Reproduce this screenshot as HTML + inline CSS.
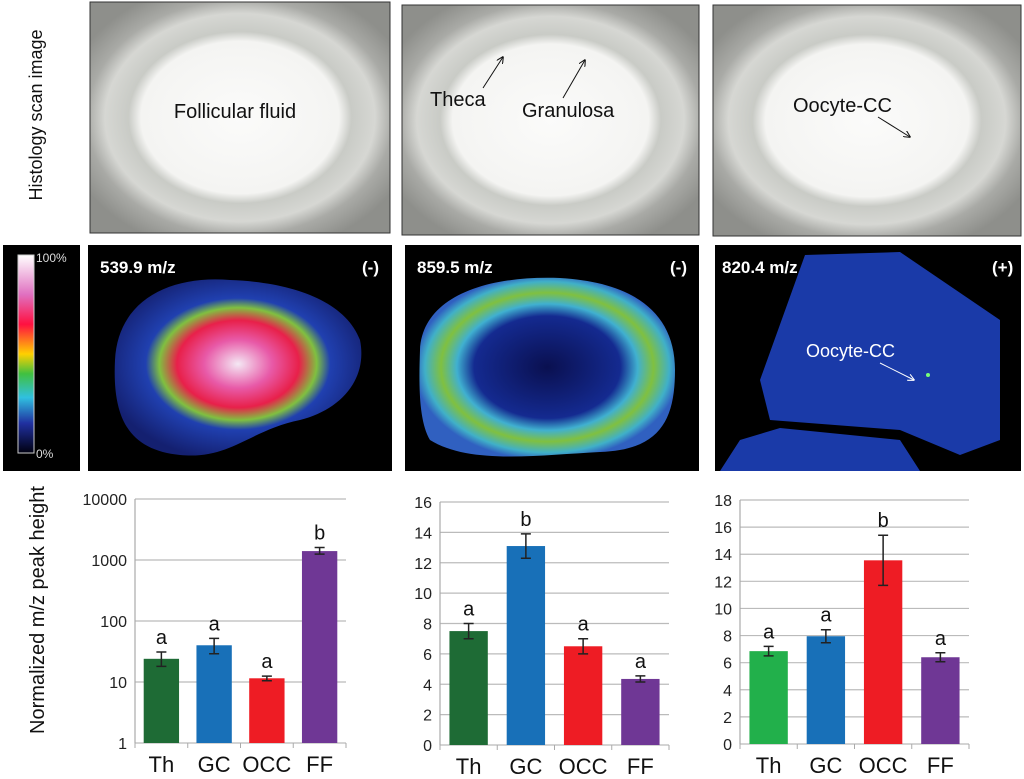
<!DOCTYPE html>
<html><head><meta charset="utf-8"><style>
body{margin:0;width:1024px;height:779px;background:#fff;overflow:hidden;font-family:"Liberation Sans",sans-serif;position:relative}
</style></head><body>
<svg width="1024" height="779" viewBox="0 0 1024 779" style="position:absolute;left:0;top:0">
<defs>
<radialGradient id="hist" cx="50%" cy="50%" r="60%">
<stop offset="0" stop-color="#fbfbfa"/><stop offset="0.55" stop-color="#f4f4f2"/><stop offset="0.62" stop-color="#c9cbc6"/><stop offset="0.75" stop-color="#d6d7d3"/><stop offset="0.85" stop-color="#a9aaa6"/><stop offset="1" stop-color="#8e8f8b"/></radialGradient>
<linearGradient id="cbar" x1="0" y1="0" x2="0" y2="1">
<stop offset="0" stop-color="#ffffff"/><stop offset="0.2" stop-color="#e070c0"/><stop offset="0.35" stop-color="#ff1040"/><stop offset="0.5" stop-color="#ffd000"/><stop offset="0.6" stop-color="#40c040"/><stop offset="0.72" stop-color="#30c0e0"/><stop offset="0.85" stop-color="#2030a0"/><stop offset="1" stop-color="#000010"/></linearGradient>
<radialGradient id="m1" cx="50%" cy="48%" r="55%">
<stop offset="0" stop-color="#f4e8f4"/><stop offset="0.25" stop-color="#e85aa8"/><stop offset="0.45" stop-color="#e8204a"/><stop offset="0.58" stop-color="#80c040"/><stop offset="0.68" stop-color="#2040b0"/><stop offset="1" stop-color="#142070"/></radialGradient>
<radialGradient id="m2" cx="50%" cy="50%" r="52%">
<stop offset="0" stop-color="#0a1050"/><stop offset="0.55" stop-color="#142a90"/><stop offset="0.68" stop-color="#40b0d0"/><stop offset="0.8" stop-color="#80c040"/><stop offset="0.92" stop-color="#40b0c8"/><stop offset="1" stop-color="#3060c0"/></radialGradient>
<marker id="ah" viewBox="0 0 10 10" refX="9" refY="5" markerWidth="7" markerHeight="7" orient="auto"><path d="M0 0L10 5L0 10" fill="none" stroke="context-stroke" stroke-width="1.5"/></marker>
<marker id="ahb" viewBox="0 0 10 10" refX="9" refY="5" markerWidth="7" markerHeight="7" orient="auto"><path d="M0 0L10 5L0 10" fill="none" stroke="#111" stroke-width="1.5"/></marker>
<marker id="ahw" viewBox="0 0 10 10" refX="9" refY="5" markerWidth="7" markerHeight="7" orient="auto"><path d="M0 0L10 5L0 10" fill="none" stroke="#fff" stroke-width="1.5"/></marker>
</defs>
<g>
<rect x="90" y="2" width="300" height="231" fill="url(#hist)" stroke="#333"/>
<text x="235" y="118" font-size="20" text-anchor="middle" fill="#111">Follicular fluid</text></g>
<g>
<rect x="402" y="5" width="297" height="230" fill="url(#hist)" stroke="#333"/>
<text x="430" y="106" font-size="20" fill="#111">Theca</text>
<text x="522" y="117" font-size="20" fill="#111">Granulosa</text>
<line x1="483" y1="88" x2="503" y2="57" stroke="#111" marker-end="url(#ahb)"/><line x1="563" y1="98" x2="585" y2="60" stroke="#111" marker-end="url(#ahb)"/></g>
<g>
<rect x="713" y="5" width="308" height="231" fill="url(#hist)" stroke="#333"/>
<text x="793" y="112" font-size="20" fill="#111">Oocyte-CC</text>
<line x1="878" y1="117" x2="910" y2="137" stroke="#111" marker-end="url(#ahb)"/></g>
<text transform="translate(42,115) rotate(-90)" font-size="18" text-anchor="middle" fill="#111">Histology scan image</text>
<g>
<rect x="3" y="245" width="77" height="226" fill="#000"/>
<rect x="18" y="255" width="16" height="198" fill="url(#cbar)" stroke="#ccc"/>
<text x="36" y="262" font-size="12" fill="#ddd">100%</text><text x="36" y="458" font-size="12" fill="#ddd">0%</text></g>
<g>
<rect x="88" y="245" width="304" height="226" fill="#000"/>
<path d="M115 360 C118 300 170 275 230 280 C290 282 345 300 360 340 C368 380 340 410 300 420 C250 430 230 460 180 455 C130 450 112 420 115 360Z" fill="url(#m1)"/>
<text x="100" y="273" font-size="17" font-weight="bold" fill="#fff">539.9 m/z</text><text x="362" y="273" font-size="17" font-weight="bold" fill="#fff">(-)</text></g>
<g>
<rect x="405" y="245" width="294" height="226" fill="#000"/>
<path d="M420 350 C422 300 480 275 560 278 C630 282 675 310 675 370 C675 420 660 450 600 452 C540 455 470 465 430 440 C418 420 419 380 420 350Z" fill="url(#m2)"/>
<text x="417" y="273" font-size="17" font-weight="bold" fill="#fff">859.5 m/z</text><text x="670" y="273" font-size="17" font-weight="bold" fill="#fff">(-)</text></g>
<g>
<rect x="715" y="245" width="306" height="226" fill="#000"/>
<path d="M805 255 L900 252 L1000 320 L1000 440 L960 455 L900 430 L770 420 L760 380Z" fill="#1a3aa8"/>
<path d="M720 471 L740 440 L780 428 L900 440 L920 471Z" fill="#1a3aa8"/>
<text x="722" y="273" font-size="17" font-weight="bold" fill="#fff">820.4 m/z</text><text x="992" y="273" font-size="17" font-weight="bold" fill="#fff">(+)</text>
<text x="806" y="357" font-size="18" fill="#fff">Oocyte-CC</text>
<line x1="880" y1="363" x2="914" y2="380" stroke="#fff" marker-end="url(#ahw)"/><circle cx="928" cy="375" r="2" fill="#7f7"/></g>
<text transform="translate(44,610) rotate(-90)" font-size="20" text-anchor="middle" fill="#111">Normalized m/z peak height</text>
<g id="charts"></g>
</svg>
<script>
const categories=["Th","GC","OCC","FF"];
const letters1=["a","a","a","b"];
const values1=[24,40,11.5,1400];
const errLo1=[18,29,10.5,1250];
const errHi1=[31,52,12.5,1600];
const ticks1=[1,10,100,1000,10000];
const letters2=["a","b","a","a"];
const values2=[7.5,13.1,6.5,4.35];
const err2=[0.5,0.8,0.5,0.2];
const ticks2=[0,2,4,6,8,10,12,14,16];
const letters3=["a","a","b","a"];
const values3=[6.85,7.95,13.55,6.4];
const err3=[0.35,0.48,1.85,0.33];
const ticks3=[0,2,4,6,8,10,12,14,16,18];
const colors1=["#1e6b35","#1870b8","#ee1c24","#6f3795"];
const colors3=["#22b04b","#1870b8","#ee1c24","#6f3795"];
const NS="http://www.w3.org/2000/svg";
const root=document.getElementById('charts');
function mk(t,a,p){const e=document.createElementNS(NS,t);for(const k in a)e.setAttribute(k,a[k]);(p||root).appendChild(e);return e;}
function chart(id,x0,x1,yTop,yBot,ticks,yf,vals,lo,hi,lets,cols){
  const g=mk('g',{});
  
  
  ticks.forEach(t=>{const y=yf(t);
    const l=mk('line',{x1:x0,x2:x1,y1:y,y2:y,stroke:'#bbb','stroke-width':1.2},g);
    
    const tx=mk('text',{x:x0-8,y:y+6,'font-size':16,'text-anchor':'end',fill:'#222'},g);tx.textContent=t;
    });
  mk('line',{x1:x0,x2:x0,y1:yf(ticks[ticks.length-1]),y2:yf(ticks[0]),stroke:'#aaa','stroke-width':1.2},g);
  const bw=(x1-x0)/categories.length;
  for(let i=0;i<=categories.length;i++)mk('line',{x1:x0+i*bw,x2:x0+i*bw,y1:yBot,y2:yBot+5,stroke:'#aaa'},g);
  categories.forEach((c,i)=>{
    const cx=x0+bw*(i+0.5), w=bw*0.67, y=yf(vals[i]);
    const r=mk('rect',{x:cx-w/2,y:y,width:w,height:yBot-y,fill:cols[i]},g);
    
    const ya=yf(hi[i]),yb=yf(lo[i]);
    mk('path',{d:`M${cx-5} ${ya}H${cx+5}M${cx} ${ya}V${yb}M${cx-5} ${yb}H${cx+5}`,stroke:'#222','stroke-width':1.5,fill:'none'},g);
    const lt=mk('text',{x:cx,y:ya-8,'font-size':20,'text-anchor':'middle',fill:'#111'},g);lt.textContent=lets[i];
    
    const xl=mk('text',{x:cx,y:yBot+29,'font-size':22,'text-anchor':'middle',fill:'#111'},g);xl.textContent=c;
    
  });
}
chart('chart-539',135,346,499,743,ticks1,v=>743-(Math.log10(v))*61,values1,errLo1,errHi1,letters1,colors1);
chart('chart-859',440,669,502,745,ticks2,v=>745-v*(243/16),values2,values2.map((v,i)=>v-err2[i]),values2.map((v,i)=>v+err2[i]),letters2,colors1);
chart('chart-820',740,969,500,744,ticks3,v=>744-v*(244/18),values3,values3.map((v,i)=>v-err3[i]),values3.map((v,i)=>v+err3[i]),letters3,colors3);
</script>
</body></html>
